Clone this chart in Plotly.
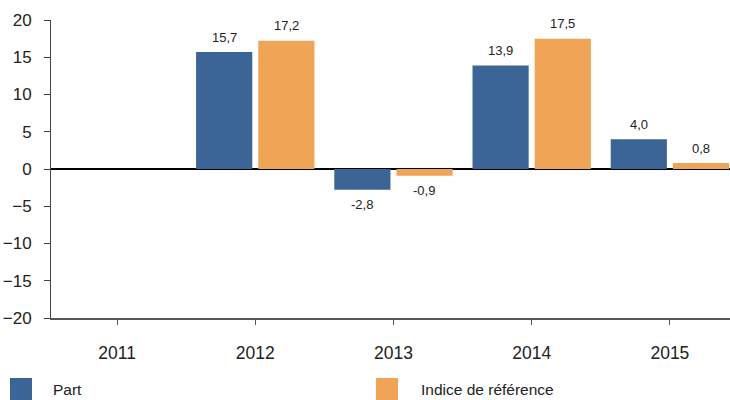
import plotly.graph_objects as go

years = ["2011", "2012", "2013", "2014", "2015"]
part = [None, 15.7, -2.8, 13.9, 4.0]
indice = [None, 17.2, -0.9, 17.5, 0.8]
series_names = ["Part", "Indice de référence"]
colors = ["#3A6596", "#F0A456"]
y_ticks = [20, 15, 10, 5, 0, -5, -10, -15, -20]

FONT = "Liberation Sans, Arial, sans-serif"

fig = go.Figure()
for name, vals, col in zip(series_names, [part, indice], colors):
    fig.add_trace(go.Bar(x=years, y=vals, name=name, marker=dict(color=col, line=dict(width=0)),
                         showlegend=False, hoverinfo="x+y"))

annotations = []
for vals, shift in [(part, -31), (indice, 31)]:
    for i, v in enumerate(vals):
        if v is None:
            continue
        annotations.append(dict(x=i, y=v, xref="x", yref="y", text=f"{v:.1f}".replace(".", ","),
                                showarrow=False, xshift=shift, yshift=15 if v >= 0 else -15,
                                yanchor="middle", font=dict(family=FONT, size=13, color="#222")))

# legend drawn manually (plot area: x 51..730 px, y 20..318 px)
def px_x(p):
    return (p - 51) / 679.0

def px_y(p):
    return (318 - p) / 298.0

shapes = []
for (x0, tx), name, col in zip([(10, 51), (376, 419)], series_names, colors):
    shapes.append(dict(type="rect", xref="paper", yref="paper", x0=px_x(x0), x1=px_x(x0 + 22),
                       y0=px_y(401), y1=px_y(378), fillcolor=col, line=dict(width=0), layer="above"))
    annotations.append(dict(x=px_x(tx), y=px_y(389), xref="paper", yref="paper", text=name,
                            showarrow=False, xanchor="left", yanchor="middle",
                            font=dict(family=FONT, size=15.5, color="#222")))

fig.update_layout(
    width=730, height=400,
    margin=dict(l=51, r=0, t=20, b=82),
    paper_bgcolor="white", plot_bgcolor="white",
    barmode="group", bargap=0.10, bargroupgap=0.097,
    font=dict(family=FONT, size=17, color="#222"),
    annotations=annotations, shapes=shapes,
    xaxis=dict(type="category", range=[-0.478, 4.435], showgrid=False, showline=True,
               linecolor="#555", linewidth=1.5, ticks="outside", ticklen=5, tickcolor="#555",
               tickfont=dict(size=17.5), ticklabelstandoff=13, zeroline=False, automargin=False),
    yaxis=dict(range=[-20, 20], tickvals=y_ticks, showgrid=False, showline=True,
               linecolor="#444", linewidth=1, ticks="outside", ticklen=6, tickcolor="#444",
               tickfont=dict(size=17), ticklabelstandoff=9, automargin=False,
               zeroline=True, zerolinecolor="#000", zerolinewidth=1.5),
)

fig.write_html("out.html", config={"displayModeBar": False},
               post_script="document.body.style.margin='0';document.body.style.overflow='hidden';")
